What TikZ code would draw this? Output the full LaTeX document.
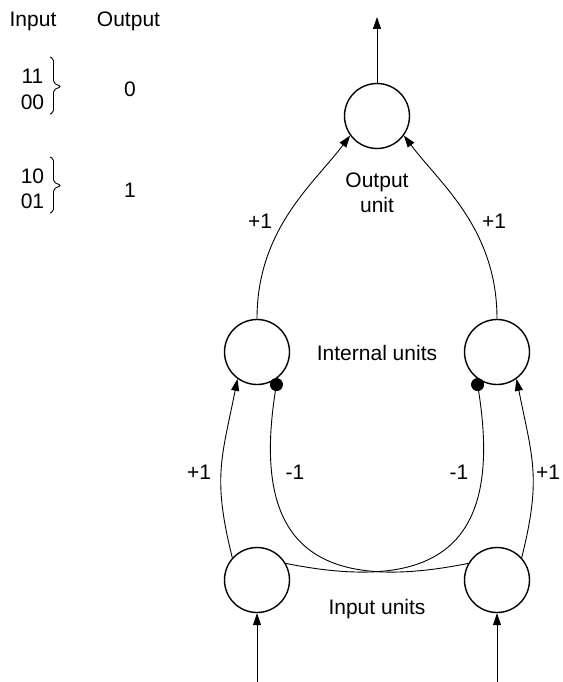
\documentclass[tikz,border=0pt]{standalone}
\usepackage{fontspec}
\setmainfont{Liberation Sans}
\usetikzlibrary{arrows.meta}
\begin{document}
\begin{tikzpicture}[x=1pt,y=-1pt,
  font=\fontsize{21}{25}\selectfont,
  unit/.style={circle, draw, line width=1.4pt, minimum size=65pt, inner sep=0pt},
  link/.style={line width=0.9pt},
  excite/.style={link, -{Triangle[length=12pt,width=8pt]}},
  inhibit/.style={link, -{Circle[length=13pt,width=13pt]}},
  lbl/.style={anchor=base, inner sep=0pt},
  brace/.style={line width=0.9pt, rounded corners=2pt},
]
\useasboundingbox (0,0) rectangle (562,682);
\clip (0,0) rectangle (562,682);

% truth table of the XOR task
\node[lbl] (hIn)  at (33,27)    {Input};
\node[lbl] (hOut) at (128.5,27) {Output};
\node[lbl] (r11) at (32.5,84)  {11};
\node[lbl] (r00) at (32.5,110) {00};
\node[lbl] (o0)  at (130,97)   {0};
\node[lbl] (r10) at (32.5,183) {10};
\node[lbl] (r01) at (32.5,208) {01};
\node[lbl] (o1)  at (130,197)  {1};
\draw[brace] (50,57) -- (53.5,58.5) -- (53.5,83) -- (61,86.5) -- (53.5,90) -- (53.5,112.5) -- (50,114);
\draw[brace] (50,157) -- (53.5,158.5) -- (53.5,182) -- (61,185.5) -- (53.5,189) -- (53.5,211.5) -- (50,213);

% units
\node[unit] (out)  at (377,116) {};
\node[unit] (hidL) at (257,352) {};
\node[unit] (hidR) at (497,352) {};
\node[unit] (inL)  at (257,580) {};
\node[unit] (inR)  at (497,580) {};
\coordinate (top)   at (377,17);
\coordinate (feedL) at (257,686);
\coordinate (feedR) at (497,686);

% external input and output lines
\draw[excite] (out.north) -- (top);
\draw[excite] (feedL) -- (inL.south);
\draw[excite] (feedR) -- (inR.south);

% hidden -> output
\draw[excite] (hidL.north) .. controls +(0,-90) and +(-36,48) .. (out.216);
\draw[excite] (hidR.north) .. controls +(0,-90) and +(36,48) .. (out.-36);

% input -> hidden, excitatory
\draw[excite] (inL.138) .. controls +(-20,-80) and +(-16,80) .. (hidL.234);
\draw[excite] (inR.42) .. controls +(20,-80) and +(16,80) .. (hidR.-54);

% input -> hidden, inhibitory (crossing)
\draw[inhibit] (inL.30) .. controls +(150,30) and +(27,170) .. (hidR.232);
\draw[inhibit] (inR.150) .. controls +(-150,30) and +(-27,170) .. (hidL.308);

% labels
\node[lbl] (wOL) at (260,228) {+1};
\node[lbl] (wOR) at (494,228) {+1};
\node[lbl] (outA) at (377,187) {Output};
\node[lbl] (outB) at (377,212) {unit};
\node[lbl] (hidlab) at (377,360) {Internal units};
\node[lbl] (inlab)  at (377,614) {Input units};
\node[lbl] (wL1) at (199,479) {+1};
\node[lbl] (wL2) at (295,479) {-1};
\node[lbl] (wR2) at (459,479) {-1};
\node[lbl] (wR1) at (548,479) {+1};
\end{tikzpicture}
\end{document}
